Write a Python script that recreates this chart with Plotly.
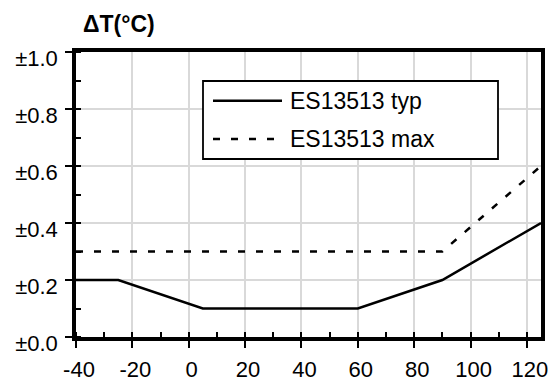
import plotly.graph_objects as go

# Data
typ_x = [-40, -25, 5, 60, 90, 125]
typ_y = [0.2, 0.2, 0.1, 0.1, 0.2, 0.4]
max_x = [-40, 90, 125]
max_y = [0.3, 0.3, 0.6]
series_names = ["ES13513 typ", "ES13513 max"]
y_tickvals = [0.0, 0.2, 0.4, 0.6, 0.8, 1.0]
y_ticktext = ["±0.0", "±0.2", "±0.4", "±0.6", "±0.8", "±1.0"]
x_tickvals = [-40, -20, 0, 20, 40, 60, 80, 100, 120]
x_ticktext = ["-40", "-20", "0", "20", "40", "60", "80", "100", "120"]
y_title = "ΔT(°C)"

FONT = "Liberation Sans, Arial, sans-serif"
OFF = 8  # page body margin
W, H = 556 - OFF, 386 - OFF
ML, MR, MT, MB = 76 - OFF, 15, 52 - OFF, 49
PW = W - ML - MR
PH = H - MT - MB


def px2paper(px, py):
    # px, py are window pixel coordinates
    return (px - OFF - ML) / PW, (H - MB - (py - OFF)) / PH


fig = go.Figure()
fig.add_trace(go.Scatter(x=typ_x, y=typ_y, mode="lines", name=series_names[0],
                         line=dict(color="black", width=2.5), showlegend=False))
fig.add_trace(go.Scatter(x=max_x, y=max_y, mode="lines", name=series_names[1],
                         line=dict(color="black", width=2.5, dash="7px,11px"), showlegend=False))

# manual legend
bx0, by0 = px2paper(203, 81)
bx1, by1 = px2paper(498, 159)
fig.add_shape(type="rect", xref="paper", yref="paper", x0=bx0, y0=by0, x1=bx1, y1=by1,
              line=dict(color="black", width=1.8), fillcolor="white", layer="above")
for name, dash, py in [(series_names[0], "solid", 100.7), (series_names[1], "7px,11px", 139)]:
    lx0, ly = px2paper(213, py)
    lx1, _ = px2paper(282, py)
    fig.add_shape(type="line", xref="paper", yref="paper", x0=lx0, y0=ly, x1=lx1, y1=ly,
                  line=dict(color="black", width=2.5, dash=dash), layer="above")
    tx, _ = px2paper(288, py)
    fig.add_annotation(xref="paper", yref="paper", x=tx, y=ly, text=name, showarrow=False,
                       xanchor="left", yanchor="middle", font=dict(family=FONT, size=23, color="black"))

tx, ty = px2paper(81, 24)
fig.add_annotation(xref="paper", yref="paper", x=tx, y=ty, text="<b>" + y_title + "</b>", showarrow=False,
                   xanchor="left", yanchor="middle", font=dict(family=FONT, size=23, color="black"))

fig.update_xaxes(range=[-40, 125], tickmode="array", tickvals=x_tickvals, ticktext=x_ticktext,
                 showline=True, linecolor="black", linewidth=3.5, mirror=True, automargin=False,
                 ticks="outside", ticklen=7, tickwidth=2, tickcolor="black",
                 ticklabelstandoff=3, ticklabelshift=3,
                 showgrid=True, gridcolor="#d9d9d9", gridwidth=1.5, zeroline=False,
                 minor=dict(dtick=10, tick0=-40, ticks="inside", ticklen=5, tickwidth=2, tickcolor="black", showgrid=False),
                 tickfont=dict(family=FONT, size=22, color="black"))
fig.update_yaxes(range=[0, 1], tickmode="array", tickvals=y_tickvals, ticktext=y_ticktext,
                 showline=True, linecolor="black", linewidth=3.5, mirror=True, automargin=False,
                 ticks="outside", ticklen=7, tickwidth=2, tickcolor="black",
                 ticklabelstandoff=3, ticklabelshift=6,
                 showgrid=True, gridcolor="#d9d9d9", gridwidth=1.5, zeroline=False,
                 minor=dict(dtick=0.1, tick0=0, ticks="inside", ticklen=5, tickwidth=2, tickcolor="black", showgrid=False),
                 tickfont=dict(family=FONT, size=22, color="black"))

fig.update_layout(width=W, height=H, margin=dict(l=ML, r=MR, t=MT, b=MB, pad=0, autoexpand=False),
                  paper_bgcolor="white", plot_bgcolor="white", showlegend=False)
fig.write_html("out.html")
